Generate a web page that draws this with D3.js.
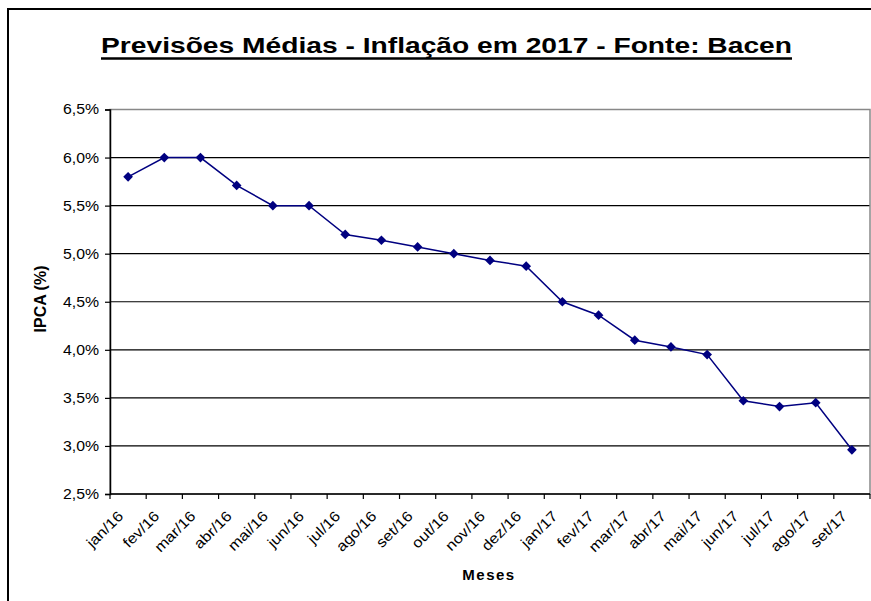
<!DOCTYPE html>
<html>
<head>
<meta charset="utf-8">
<script src="https://cdn.jsdelivr.net/npm/d3@7"></script>
<style>
  body { margin: 0; background: #fff; }
  svg { display: block; font-family: "Liberation Sans", Arial, sans-serif; }
</style>
</head>
<body>
<div id="chart"></div>
<script>
// Meses (categorias) e previsões médias do IPCA (%)
const months = ["jan/16", "fev/16", "mar/16", "abr/16", "mai/16", "jun/16", "jul/16",
    "ago/16", "set/16", "out/16", "nov/16", "dez/16", "jan/17", "fev/17", "mar/17",
    "abr/17", "mai/17", "jun/17", "jul/17", "ago/17", "set/17"];
const ipca = [5.80, 6.00, 6.00, 5.71, 5.50, 5.50, 5.20, 5.14, 5.07, 5.00, 4.93, 4.87,
    4.50, 4.36, 4.10, 4.03, 3.95, 3.47, 3.41, 3.45, 2.96];
const yTicks = [2.5, 3.0, 3.5, 4.0, 4.5, 5.0, 5.5, 6.0, 6.5];

const width = 871, height = 601;
const margin = { top: 109.5, right: 1, bottom: 107, left: 110 };
const innerW = width - margin.left - margin.right;
const innerH = height - margin.top - margin.bottom;

// texto um pouco mais largo, como no original
function stretch(sel, k) {
    sel.each(function () {
        const len = this.getComputedTextLength();
        d3.select(this).attr("textLength", len * k).attr("lengthAdjust", "spacingAndGlyphs");
    });
}

const svg = d3.select("#chart").append("svg")
    .attr("width", width)
    .attr("height", height);

// Moldura do gráfico
svg.append("rect")
    .attr("x", 8).attr("y", 9)
    .attr("width", width + 10).attr("height", height + 10)
    .attr("fill", "#fff")
    .attr("stroke", "#000")
    .attr("stroke-width", 2);

// Título
svg.append("text")
    .attr("x", 101).attr("y", 53)
    .attr("font-size", 22)
    .attr("font-weight", "bold")
    .attr("fill", "#000")
    .attr("textLength", 691)
    .attr("lengthAdjust", "spacingAndGlyphs")
    .text("Previsões Médias - Inflação em 2017 - Fonte: Bacen");
svg.append("line")
    .attr("x1", 101).attr("x2", 792)
    .attr("y1", 58.5).attr("y2", 58.5)
    .attr("stroke", "#000").attr("stroke-width", 2.5);

const g = svg.append("g")
    .attr("transform", `translate(${margin.left},${margin.top})`);

const x = d3.scaleBand().domain(months).range([0, innerW]);
const y = d3.scaleLinear().domain([2.5, 6.5]).range([innerH, 0]);

// Linhas de grade
g.selectAll(".grid")
    .data(yTicks.filter(d => d > 2.5 && d < 6.5))
    .enter().append("line")
    .attr("x1", 0).attr("x2", innerW)
    .attr("y1", d => y(d)).attr("y2", d => y(d))
    .attr("stroke", "#000").attr("stroke-width", 1.2);

// Borda da área de plotagem
g.append("rect")
    .attr("x", 0).attr("y", 0)
    .attr("width", innerW).attr("height", innerH)
    .attr("fill", "none")
    .attr("stroke", "#888").attr("stroke-width", 1.5);

// Eixo Y
g.append("g")
    .call(d3.axisLeft(y).tickValues(yTicks).tickSize(5).tickPadding(6)
        .tickFormat(d => d3.format(".1f")(d).replace(".", ",") + "%"))
    .call(a => a.select(".domain").attr("stroke", "#000").attr("stroke-width", 1.5))
    .call(a => a.selectAll("line").attr("stroke", "#000").attr("stroke-width", 1.2))
    .call(a => a.selectAll("text").attr("font-size", 14).attr("fill", "#000")
        .attr("font-family", "Liberation Sans, Arial, sans-serif"))
    .call(a => stretch(a.selectAll("text"), 1.13));

// Eixo X (marcas entre categorias)
const xa = g.append("g").attr("transform", `translate(0,${innerH})`);
xa.append("line")
    .attr("x1", 0).attr("x2", innerW)
    .attr("stroke", "#000").attr("stroke-width", 1.5);
xa.selectAll(".tick")
    .data(months.concat([null]))
    .enter().append("line")
    .attr("x1", (d, i) => i * x.step()).attr("x2", (d, i) => i * x.step())
    .attr("y1", 0).attr("y2", 5)
    .attr("stroke", "#000").attr("stroke-width", 1.2);
xa.selectAll(".lbl")
    .data(months)
    .enter().append("text")
    .attr("transform", d => `translate(${x(d) + x.bandwidth() / 2 - 4},${23}) rotate(-45)`)
    .attr("text-anchor", "end")
    .attr("font-size", 14.5)
    .attr("fill", "#000")
    .text(d => d)
    .call(s => stretch(s, 1.13));

// Títulos dos eixos
svg.append("text")
    .attr("transform", `translate(46,${299}) rotate(-90)`)
    .attr("text-anchor", "middle")
    .attr("font-size", 16)
    .attr("font-weight", "bold")
    .text("IPCA (%)");
svg.append("text")
    .attr("x", 489).attr("y", 580)
    .attr("text-anchor", "middle")
    .attr("font-size", 15)
    .attr("font-weight", "bold")
    .attr("letter-spacing", 1.5)
    .text("Meses");

// Série
const line = d3.line()
    .x((d, i) => x(months[i]) + x.bandwidth() / 2)
    .y(d => y(d));
g.append("path")
    .datum(ipca)
    .attr("d", line)
    .attr("fill", "none")
    .attr("stroke", "#000080")
    .attr("stroke-width", 1.5);

g.selectAll(".pt")
    .data(ipca)
    .enter().append("path")
    .attr("d", d3.symbol().type(d3.symbolDiamond2).size(60))
    .attr("transform", (d, i) => `translate(${x(months[i]) + x.bandwidth() / 2},${y(d)})`)
    .attr("fill", "#000080");
</script>
</body>
</html>
